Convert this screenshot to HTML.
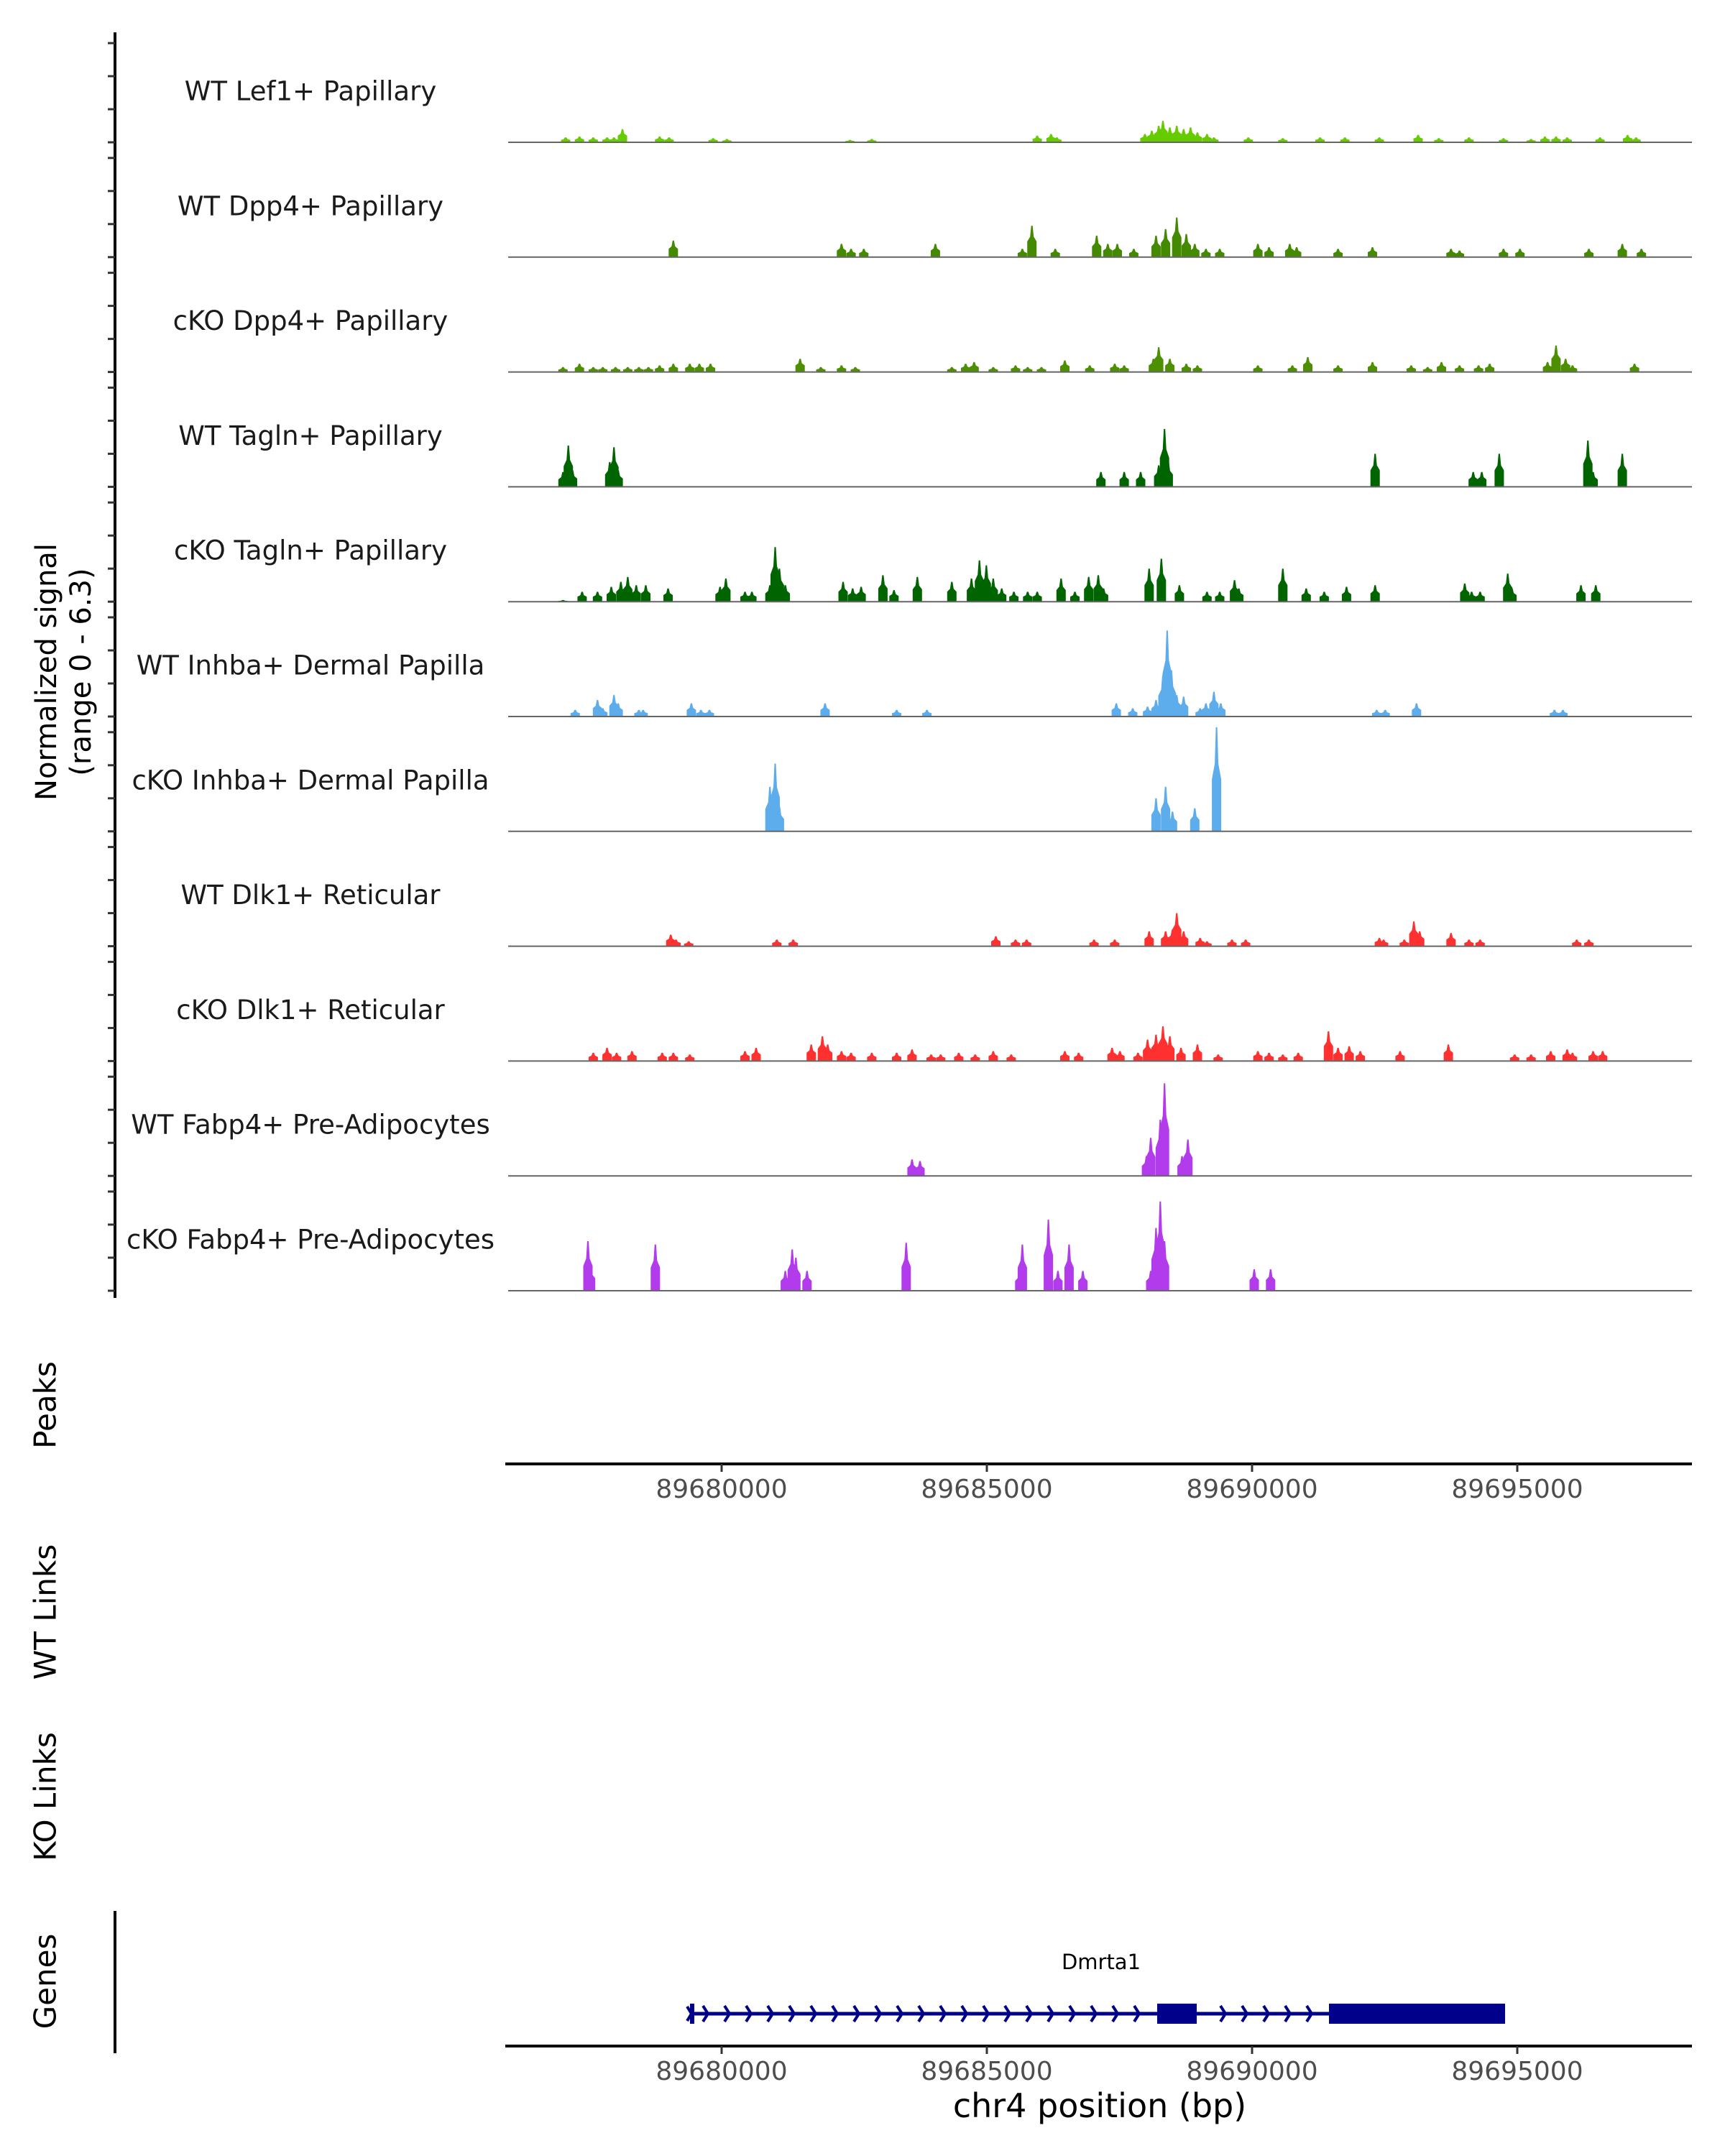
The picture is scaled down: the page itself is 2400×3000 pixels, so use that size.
<!DOCTYPE html>
<html><head><meta charset="utf-8"><style>
html,body{margin:0;padding:0;background:#fff}
svg{display:block}
text{font-family:"DejaVu Sans","Liberation Sans",sans-serif}
</style></head><body>
<svg id="chart" width="2400" height="3000" viewBox="0 0 2400 3000" xmlns="http://www.w3.org/2000/svg">
<g id="tracks"></g>
<g id="axes"></g>
</svg>
<script>
// ---- data (positions: kb offset from 89,680,000 bp; heights: normalized signal) ----
const anchorBp = 89680000;
const trackNames = ["WT Lef1+ Papillary","WT Dpp4+ Papillary","cKO Dpp4+ Papillary","WT Tagln+ Papillary","cKO Tagln+ Papillary","WT Inhba+ Dermal Papilla","cKO Inhba+ Dermal Papilla","WT Dlk1+ Reticular","cKO Dlk1+ Reticular","WT Fabp4+ Pre-Adipocytes","cKO Fabp4+ Pre-Adipocytes"];
const trackColors = ["#66CC00","#448A00","#4C8F00","#006400","#006400","#5DADEC","#5DADEC","#FF3030","#FF3030","#B23BEB","#B23BEB"];
const xTicks = [89680000, 89685000, 89690000, 89695000];
const signalTicks = [0, 2, 4, 6];
const t1Pos=[-2.94,-2.68,-2.42,-2.16,-2.03,-1.87,-1.17,-0.99,-0.16,0.10,2.42,2.83,5.95,6.21,6.32,7.98,8.11,8.24,8.32,8.45,8.58,8.71,8.84,8.97,9.15,9.28,9.93,10.58,11.28,11.75,12.40,13.13,13.52,14.09,14.74,15.26,15.52,15.73,15.94,16.56,17.08,17.24];
const t1Val=[.3,.35,.3,.3,.3,.8,.35,.3,.25,.2,.15,.2,.4,.5,.3,.5,.7,1.0,1.3,.9,1.0,.8,.9,.6,.5,.3,.3,.25,.3,.3,.3,.45,.25,.3,.25,.2,.35,.35,.3,.3,.45,.3];
const t2Pos=[-0.91,2.26,2.44,2.68,4.03,5.67,5.85,6.29,7.07,7.28,7.46,7.77,8.19,8.37,8.58,8.76,8.92,9.13,9.39,10.11,10.32,10.71,10.84,11.62,12.27,13.75,13.91,14.74,15.05,16.35,16.98,17.34];
const t2Val=[1.0,.8,.5,.5,.8,.5,1.9,.5,1.3,.8,.8,.5,1.3,1.7,2.4,1.4,.8,.5,.5,.8,.6,.8,.6,.5,.6,.5,.4,.5,.5,.5,.8,.5];
const t3Pos=[-2.99,-2.68,-2.42,-2.24,-2.00,-1.77,-1.56,-1.38,-1.17,-0.91,-0.60,-0.42,-0.21,1.48,1.87,2.26,2.52,4.34,4.60,4.76,5.12,5.54,5.77,6.03,6.47,6.94,7.41,7.59,8.14,8.24,8.45,8.76,8.97,10.11,10.76,11.05,11.62,12.27,13.00,13.31,13.57,13.91,14.27,14.48,15.57,15.73,15.91,16.04,17.21];
const t3Val=[.3,.5,.3,.3,.3,.3,.3,.3,.4,.5,.5,.5,.5,.8,.3,.4,.3,.3,.5,.6,.3,.4,.3,.3,.7,.4,.5,.4,.8,1.5,.8,.5,.4,.4,.4,.9,.4,.6,.4,.3,.6,.4,.4,.5,.6,1.6,.8,.4,.5];
const t4Pos=[-2.99,-2.89,-2.81,-2.11,-2.03,-1.95,7.15,7.59,7.90,8.24,8.35,8.42,12.32,14.17,14.33,14.66,16.33,16.43,16.98];
const t4Val=[.9,2.5,1.0,1.5,2.4,1.0,.9,.9,.9,1.3,3.5,1.5,2.0,.9,.9,2.0,2.8,.9,2.0];
const t5Pos=[-2.99,-2.63,-2.34,-2.08,-1.90,-1.77,-1.61,-1.43,-1.01,-0.03,0.08,0.44,0.57,0.91,1.01,1.09,1.20,2.29,2.47,2.63,3.04,3.25,3.69,4.34,4.71,4.86,4.99,5.12,5.28,5.51,5.77,5.95,6.40,6.66,6.92,7.10,7.20,8.06,8.29,8.63,9.15,9.39,9.67,9.75,10.58,11.02,11.36,11.78,12.32,14.01,14.14,14.30,14.82,14.90,16.20,16.48];
const t5Val=[.1,.6,.6,.9,1.2,1.5,1.0,1.0,.8,.9,1.4,.6,.6,1.0,3.3,2.0,1.0,1.2,.8,.9,1.6,.7,1.5,1.2,1.4,2.5,2.2,1.4,.8,.6,.6,.6,1.4,.6,1.5,1.6,.8,2.0,2.6,1.0,.6,.6,1.3,.8,2.0,.8,.6,.9,1.0,1.1,.6,.6,1.7,.8,1.0,1.0];
const t6Pos=[-2.76,-2.34,-2.24,-2.03,-1.95,-1.56,-1.48,-0.57,-0.39,-0.23,1.95,3.30,3.87,7.44,7.75,8.03,8.19,8.32,8.40,8.48,8.58,8.71,9.02,9.13,9.28,9.41,12.35,12.51,13.10,15.70,15.86];
const t6Val=[.4,1.0,.5,1.3,.8,.4,.4,.8,.4,.4,.8,.4,.4,.8,.5,.6,1.0,2.5,5.2,2.8,1.3,1.2,.5,.8,1.5,.8,.4,.4,.8,.4,.4];
const t7Pos=[0.91,1.01,1.09,8.19,8.37,8.50,8.92,9.33];
const t7Val=[2.7,4.1,1.5,2.0,2.7,1.2,1.4,6.3];
const t8Pos=[-0.96,-0.86,-0.62,1.04,1.35,5.17,5.54,5.75,7.02,7.41,8.06,8.37,8.50,8.58,8.71,9.02,9.15,9.62,9.88,12.40,12.48,12.87,13.05,13.16,13.75,14.09,14.30,16.12,16.35];
const t8Val=[.7,.4,.3,.4,.4,.6,.4,.4,.4,.4,.9,.9,1.0,2.0,.9,.5,.3,.4,.4,.5,.4,.4,1.5,.9,.8,.4,.4,.4,.4];
const t9Pos=[-2.42,-2.16,-1.98,-1.69,-1.12,-0.91,-0.60,0.44,0.65,1.69,1.90,2.00,2.26,2.44,2.83,3.30,3.59,3.95,4.13,4.47,4.78,5.12,5.46,6.47,6.73,7.36,7.51,7.85,8.03,8.19,8.32,8.45,8.66,8.97,9.36,10.11,10.32,10.58,10.87,11.44,11.62,11.83,12.04,12.79,13.70,14.95,15.26,15.63,15.94,16.04,16.43,16.61];
const t9Val=[.5,.8,.5,.6,.5,.5,.4,.6,.8,1.0,1.5,1.0,.6,.5,.5,.5,.7,.4,.4,.5,.4,.6,.4,.6,.5,.8,.6,.5,1.3,1.6,2.1,1.5,.8,1.0,.4,.6,.5,.4,.5,1.8,.8,.9,.6,.6,1.0,.4,.4,.6,.7,.5,.6,.6];
const t10Pos=[3.59,3.74,8.01,8.09,8.27,8.35,8.68,8.79];
const t10Val=[1.0,.9,1.2,2.3,3.4,5.6,1.2,2.2];
const t11Pos=[-2.52,-2.47,-1.25,1.20,1.33,1.40,1.61,3.48,5.62,5.67,6.16,6.34,6.55,6.81,8.09,8.19,8.27,8.35,10.04,10.35];
const t11Val=[3.0,1.5,2.8,1.2,2.5,2.0,1.2,2.9,1.2,2.8,4.3,1.2,2.8,1.2,1.2,3.8,5.4,3.0,1.3,1.3];
const trackPos=[t1Pos,t2Pos,t3Pos,t4Pos,t5Pos,t6Pos,t7Pos,t8Pos,t9Pos,t10Pos,t11Pos];
const trackVal=[t1Val,t2Val,t3Val,t4Val,t5Val,t6Val,t7Val,t8Val,t9Val,t10Val,t11Val];
const geneName = "Dmrta1";
const geneStart = 89679431, geneEnd = 89694770;
const exonStarts = [89688211, 89691450];
const exonEnds = [89688957, 89694770];

// ---- scales ----
const NS="http://www.w3.org/2000/svg";
const plotX0=703, plotX1=2354;
const xScale = bp => 1004 + (bp - 89680000) * 0.0738;
const base0=198, trackStep=159.8, unitPx=23;
const baseY = i => base0 + i*trackStep;
const yScale = (i,v) => baseY(i) - v*unitPx;
function mk(tag, attrs, parent){const e=document.createElementNS(NS,tag);for(const k in attrs)e.setAttribute(k,attrs[k]);parent.appendChild(e);return e;}
const tracksG=document.getElementById('tracks');
const axesG=document.getElementById('axes');

// tracks
trackNames.forEach((name,i)=>{
  const g=mk('g',{},tracksG);
  
  
  const lab=mk('text',{x:432,y:baseY(i)-71,'font-size':37,'text-anchor':'middle','dominant-baseline':'central',fill:'#1a1a1a'},g);
  lab.textContent=name;
  
  
  const hw=6.5;
  trackPos[i].forEach((p,j)=>{
    const v=trackVal[i][j];
    const cx=xScale(anchorBp+p*1000), b=baseY(i), top=yScale(i,v);
    const h=b-top;
    const pts=[[cx-hw,b],[cx-hw,b-0.5*h],[cx-2.5,b-0.65*h],[cx-1,top],[cx+1,top],[cx+2.5,b-0.65*h],[cx+hw,b-0.5*h],[cx+hw,b]];
    const poly=mk('polygon',{points:pts.map(q=>q[0].toFixed(1)+','+q[1].toFixed(1)).join(' '),fill:trackColors[i]},g);
    
    
  });
  const bl=mk('line',{x1:plotX0+4,x2:plotX1,y1:baseY(i),y2:baseY(i),stroke:'#666','stroke-width':2},g);
  
  
});

// left signal axis
const la=mk('line',{x1:160,x2:160,y1:45,y2:1806,stroke:'#000','stroke-width':4},axesG);


trackNames.forEach((n,i)=>{
  signalTicks.forEach(t=>{
    const tk=mk('line',{x1:150,x2:160,y1:yScale(i,t),y2:yScale(i,t),stroke:'#333','stroke-width':3},axesG);
    
    
  });
});
function vlabel(lines,cx,cy,fs,name){
  const t=mk('text',{transform:`translate(${cx},${cy}) rotate(-90)`,'font-size':fs,'text-anchor':'middle',fill:'#000'},axesG);
  
  
  lines.forEach((l,k)=>{const s=mk('tspan',{x:0,y:(k-(lines.length-1)/2)*48+fs*0.35},t);s.textContent=l;});
}
vlabel(["Normalized signal","(range 0 - 6.3)"],88,935,40,'y-axis-title');
vlabel(["Peaks"],63,1955,42,'peaks-label');
vlabel(["WT Links"],63,2243,42,'wt-links-label');
vlabel(["KO Links"],63,2500,42,'ko-links-label');
vlabel(["Genes"],63,2757,42,'genes-label');

// x axes
function xAxis(y,name){
  const g=mk('g',{},axesG);
  
  
  mk('line',{x1:plotX0,x2:plotX1,y1:y,y2:y,stroke:'#000','stroke-width':4},g);
  xTicks.forEach(t=>{
    const x=xScale(t);
    mk('line',{x1:x,x2:x,y1:y,y2:y+11,stroke:'#333','stroke-width':3},g);
    const tl=mk('text',{x:x,y:y+47,'font-size':36,'text-anchor':'middle',fill:'#4d4d4d'},g);
    tl.textContent=String(t);
    
    
  });
}
xAxis(2037,'peaks-x-axis');
xAxis(2847,'genes-x-axis');
const xt=mk('text',{x:1530,y:2946,'font-size':46,'text-anchor':'middle',fill:'#000'},axesG);
xt.textContent="chr4 position (bp)";


const ga=mk('line',{x1:160,x2:160,y1:2659,y2:2857,stroke:'#000','stroke-width':4},axesG);



// gene model
const gg=mk('g',{},axesG);


const gy=2802, gs=xScale(geneStart), ge=xScale(geneEnd);
mk('line',{x1:gs,x2:ge,y1:gy,y2:gy,stroke:'#00008B','stroke-width':5},gg);
mk('rect',{x:gs-2,y:gy-14,width:6,height:28,fill:'#00008B'},gg);
mk('polyline',{points:`${gs-6},${gy-10} ${gs},${gy} ${gs-6},${gy+10}`,fill:'none',stroke:'#00008B','stroke-width':4},gg);
for(let x=gs+20;x<ge;x+=30){
  let inside=false;
  exonStarts.forEach((s,k)=>{if(x>xScale(s)-8&&x<xScale(exonEnds[k])+8)inside=true;});
  if(inside)continue;
  mk('polyline',{points:`${x-4},${gy-11} ${x+3},${gy} ${x-4},${gy+11}`,fill:'none',stroke:'#00008B','stroke-width':4},gg);
}
exonStarts.forEach((s,k)=>{
  const r=mk('rect',{x:xScale(s),y:gy-14,width:xScale(exonEnds[k])-xScale(s),height:28,fill:'#00008B'},gg);
  
  
});
const gl=mk('text',{x:1532,y:2740,'font-size':29,'text-anchor':'middle',fill:'#000'},gg);
gl.textContent=geneName;


</script>
</body></html>
